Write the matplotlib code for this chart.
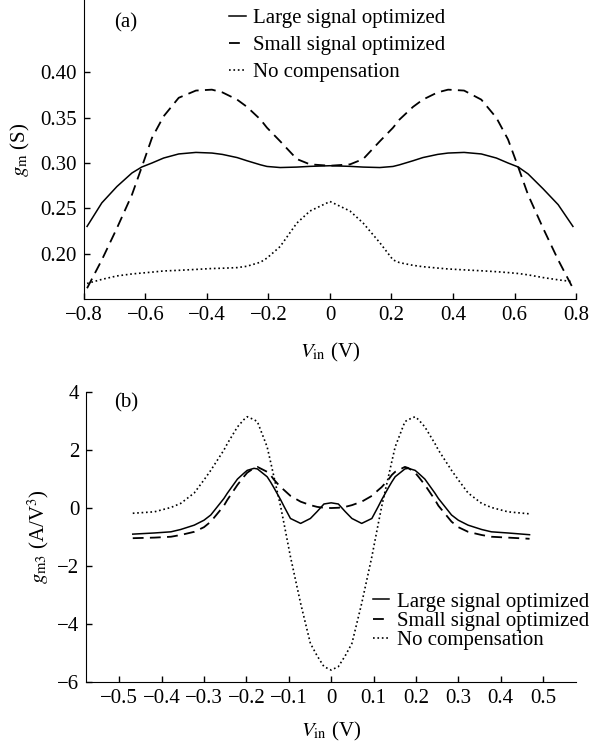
import matplotlib
matplotlib.use("Agg")
import matplotlib.pyplot as plt

plt.rcParams['font.family'] = 'serif'
plt.rcParams['font.serif'] = ['Liberation Serif', 'DejaVu Serif']
plt.rcParams['mathtext.fontset'] = 'stix'
plt.rcParams['font.size'] = 15

# panel (a): gm vs Vin
vin_a = [-0.79, -0.742, -0.693, -0.644, -0.612, -0.579, -0.541, -0.492, -0.436, -0.384, -0.35,
         -0.302, -0.27, -0.226, -0.205, -0.162, -0.108, -0.065, 0.0,
         0.065, 0.108, 0.162, 0.205, 0.226, 0.27, 0.302, 0.35, 0.384, 0.436, 0.492,
         0.541, 0.579, 0.612, 0.644, 0.693, 0.742, 0.79]
gm_large = [0.230, 0.256, 0.274, 0.289, 0.2956, 0.300, 0.3055, 0.310, 0.3117, 0.311, 0.3095,
            0.306, 0.3025, 0.298, 0.2962, 0.2950, 0.2955, 0.2963, 0.297,
            0.2963, 0.2955, 0.2950, 0.2962, 0.298, 0.3025, 0.306, 0.3095, 0.311, 0.3117, 0.310,
            0.3055, 0.300, 0.2956, 0.288, 0.2715, 0.254, 0.230]
gm_small = [0.1617, 0.193, 0.228, 0.265, 0.2956, 0.3277, 0.3516, 0.372, 0.380, 0.381, 0.378,
            0.370, 0.362, 0.348, 0.339, 0.324, 0.3044, 0.2985, 0.297,
            0.2985, 0.3044, 0.324, 0.339, 0.348, 0.362, 0.370, 0.378, 0.381, 0.380, 0.370,
            0.350, 0.326, 0.2956, 0.265, 0.228, 0.193, 0.1617]
gm_nocomp = [0.167, 0.1715, 0.1753, 0.1775, 0.1785, 0.1795, 0.1808, 0.1815, 0.1825, 0.1835, 0.1838,
             0.1845, 0.186, 0.1905, 0.195, 0.2078, 0.2336, 0.247, 0.2575,
             0.247, 0.2336, 0.212, 0.193, 0.190, 0.187, 0.1855, 0.184, 0.183, 0.182, 0.181,
             0.180, 0.179, 0.178, 0.1765, 0.1735, 0.171, 0.169]

# panel (b): gm3 vs Vin
vin_b = [-0.468, -0.417, -0.378, -0.355, -0.323, -0.3, -0.284, -0.253, -0.245, -0.221, -0.206,
         -0.198, -0.182, -0.174, -0.151, -0.143, -0.135, -0.119, -0.111, -0.096, -0.072,
         -0.049, -0.033, -0.017, 0.0,
         0.017, 0.033, 0.049, 0.072, 0.096, 0.111, 0.119, 0.135, 0.143, 0.151, 0.174, 0.182,
         0.198, 0.206, 0.221, 0.245, 0.253, 0.284, 0.3, 0.323, 0.355, 0.378, 0.417, 0.468]
gm3_large = [-0.90, -0.86, -0.82, -0.74, -0.59, -0.42, -0.24, 0.33, 0.51, 1.00, 1.20,
             1.30, 1.37, 1.35, 1.08, 0.90, 0.70, 0.28, 0.05, -0.36, -0.53,
             -0.36, -0.12, 0.14, 0.18,
             0.14, -0.12, -0.36, -0.53, -0.36, 0.05, 0.28, 0.70, 0.90, 1.08, 1.35, 1.37,
             1.30, 1.20, 1.00, 0.51, 0.33, -0.24, -0.42, -0.59, -0.74, -0.82, -0.86, -0.92]
gm3_small = [-1.04, -1.02, -0.99, -0.93, -0.82, -0.66, -0.47, 0.08, 0.28, 0.80, 1.08,
             1.22, 1.38, 1.42, 1.25, 1.14, 0.98, 0.72, 0.62, 0.42, 0.22,
             0.10, 0.04, 0.01, 0.0,
             0.01, 0.04, 0.10, 0.22, 0.42, 0.62, 0.72, 0.98, 1.14, 1.25, 1.42, 1.38,
             1.22, 1.08, 0.80, 0.28, 0.08, -0.47, -0.66, -0.82, -0.93, -0.99, -1.02, -1.06]
gm3_nocomp = [-0.18, -0.13, 0.02, 0.16, 0.52, 0.97, 1.30, 2.00, 2.22, 2.80, 3.05,
              3.15, 3.05, 2.98, 2.11, 1.60, 1.08, 0.04, -0.55, -1.68, -3.29,
              -4.67, -5.10, -5.47, -5.59,
              -5.47, -5.10, -4.67, -3.29, -1.68, -0.55, 0.04, 1.08, 1.60, 2.11, 2.98, 3.05,
              3.15, 3.05, 2.80, 2.22, 2.00, 1.30, 0.97, 0.52, 0.16, 0.02, -0.13, -0.20]

labels = ['Large signal optimized', 'Small signal optimized', 'No compensation']


def style_axes(ax):
    ax.spines['top'].set_visible(False)
    ax.spines['right'].set_visible(False)
    ax.tick_params(direction='in', length=4, width=1, pad=5)


def fmt(v, nd):
    if abs(v) < 1e-9:
        return '0'
    s = f'{abs(v):.{nd}f}'
    return ('\u2212' + s) if v < 0 else s


fig = plt.figure(figsize=(5.94, 7.49), dpi=100)

# ---- (a)
ax1 = fig.add_axes([0.1414, 0.601, 0.8283, 0.399])
ax1.plot(vin_a, gm_large, 'k-', lw=1.1, label=labels[0])
ax1.plot(vin_a, gm_small, 'k--', lw=1.3, dashes=(6, 3.5), label=labels[1])
ax1.plot(vin_a, gm_nocomp, 'k:', lw=1.2, label=labels[2])
ax1.set_xlim(-0.8, 0.8)
ax1.set_ylim(0.15, 0.48)
xt = [-0.8, -0.6, -0.4, -0.2, 0, 0.2, 0.4, 0.6, 0.8]
ax1.set_xticks(xt)
ax1.set_xticklabels([fmt(v, 1) for v in xt])
yt = [0.20, 0.25, 0.30, 0.35, 0.40]
ax1.set_yticks(yt)
ax1.set_yticklabels([f'{v:.2f}' for v in yt])
style_axes(ax1)
ax1.set_xlabel(r'$V_{\rm in}$ (V)', labelpad=12)
ax1.set_ylabel(r'$g_{\rm m}$ (S)', labelpad=6)
ax1.text(0.061, 0.923, '(a)', transform=ax1.transAxes, va='center')
ax1.legend(loc='upper left', bbox_to_anchor=(0.265, 1.02), frameon=False,
           handlelength=0.8, handletextpad=0.35, labelspacing=0.35, borderpad=0.2)

# ---- (b)
ax2 = fig.add_axes([0.145, 0.0895, 0.825, 0.387])
ax2.plot(vin_b, gm3_large, 'k-', lw=1.1, label=labels[0])
ax2.plot(vin_b, gm3_small, 'k--', lw=1.3, dashes=(6, 3.5), label=labels[1])
ax2.plot(vin_b, gm3_nocomp, 'k:', lw=1.2, label=labels[2])
ax2.set_xlim(-0.578, 0.578)
ax2.set_ylim(-6, 4)
xt2 = [-0.5, -0.4, -0.3, -0.2, -0.1, 0, 0.1, 0.2, 0.3, 0.4, 0.5]
ax2.set_xticks(xt2)
ax2.set_xticklabels([fmt(v, 1) for v in xt2])
yt2 = [-6, -4, -2, 0, 2, 4]
ax2.set_yticks(yt2)
ax2.set_yticklabels([fmt(v, 0) for v in yt2])
style_axes(ax2)
ax2.set_xlabel(r'$V_{\rm in}$ (V)', labelpad=9)
ax2.set_ylabel(r'$g_{\rm m3}$ (A/V$^3$)', labelpad=4)
ax2.text(0.057, 0.962, '(b)', transform=ax2.transAxes, va='center')
ax2.legend(loc='upper left', bbox_to_anchor=(0.555, 0.36), frameon=False,
           handlelength=0.8, handletextpad=0.35, labelspacing=-0.02, borderpad=0.2)

fig.savefig('out.png', dpi=100)
